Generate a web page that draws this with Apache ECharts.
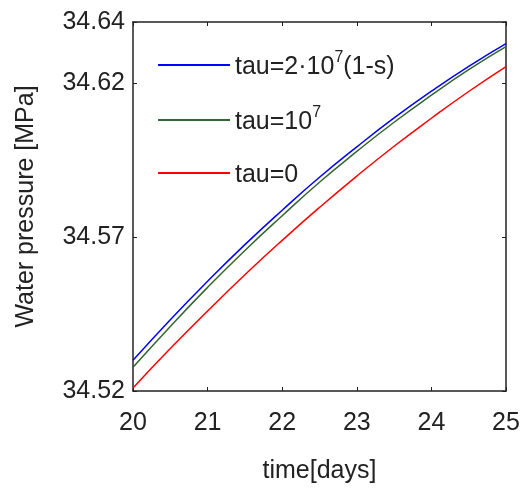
<!DOCTYPE html>
<html>
<head>
<meta charset="utf-8">
<script src="https://cdn.jsdelivr.net/npm/echarts@6/dist/echarts.min.js"></script>
<style>
html,body{margin:0;padding:0;background:#fff;}
#chart{width:524px;height:489px;}
</style>
</head>
<body>
<div id="chart"></div>
<script>
var days = [20, 20.5, 21, 21.5, 22, 22.5, 23, 23.5, 24, 24.5, 25];
var tauVar = [34.5300, 34.5432, 34.5557, 34.5676, 34.5788, 34.5895, 34.5994, 34.6088, 34.6175, 34.6256, 34.6330];
var tau1e7 = [34.5277, 34.5410, 34.5537, 34.5657, 34.5770, 34.5879, 34.5979, 34.6074, 34.6162, 34.6245, 34.6320];
var tau0 = [34.5210, 34.5338, 34.5460, 34.5578, 34.5690, 34.5797, 34.5899, 34.5996, 34.6087, 34.6174, 34.6255];
var seriesNames = ['tau=2·10^7(1-s)', 'tau=10^7', 'tau=0'];
var xTicks = [20, 21, 22, 23, 24, 25];
var yTicks = [34.52, 34.57, 34.62, 34.64];

var FONT = '"Liberation Sans", Arial, sans-serif';
var TXT = '#222';
var colors = ['#0000ff', '#336633', '#ff0000'];

function pairs(vals) { return days.map(function (d, i) { return [d, vals[i]]; }); }

function legendFmt(name) {
  var m = name.match(/^(.*)\^(\d)(.*)$/);
  if (!m) return '{n|' + name + '}';
  return '{n|' + m[1] + '}{s|' + m[2] + '}' + (m[3] ? '{n|' + m[3] + '}' : '');
}
var legendRich = {
  n: { fontSize: 25, fontFamily: FONT, color: TXT, lineHeight: 30, verticalAlign: 'bottom' },
  s: { fontSize: 16, fontFamily: FONT, color: TXT, lineHeight: 30, verticalAlign: 'top', padding: [0, 0, 14, 0] }
};
var legendTops = [45, 100, 158];

var chart = echarts.init(document.getElementById('chart'), null, { renderer: 'canvas' });
var axisLineStyle = { color: '#222', width: 1.5 };
chart.setOption({
  animation: false,
  backgroundColor: '#fff',
  grid: { left: 133, right: 18, top: 22, bottom: 95, show: false },
  legend: seriesNames.map(function (nm, i) {
    return {
      data: [{ name: nm, icon: 'rect' }], orient: 'vertical', left: 153, top: legendTops[i],
      itemWidth: 72, itemHeight: 2, itemGap: 0,
      formatter: legendFmt,
      textStyle: { rich: legendRich, padding: [0, 0, 0, 0] },
      selectedMode: false
    };
  }),
  xAxis: [{
    type: 'value', min: 20, max: 25, interval: 1, position: 'bottom',
    axisLine: { show: true, onZero: false, lineStyle: axisLineStyle },
    axisTick: { show: true, inside: true, length: 4, lineStyle: { color: '#222' } },
    splitLine: { show: false },
    axisLabel: { fontSize: 25, fontFamily: FONT, color: TXT, margin: 20,
      formatter: function (v) { return xTicks.indexOf(v) >= 0 ? String(v) : ''; } },
    name: 'time[days]', nameLocation: 'middle', nameGap: 68,
    nameTextStyle: { fontSize: 25, fontFamily: FONT, color: TXT }
  }, {
    type: 'value', min: 20, max: 25, interval: 1, position: 'top',
    axisLine: { show: true, onZero: false, lineStyle: axisLineStyle },
    axisTick: { show: true, inside: true, length: 4, lineStyle: { color: '#222' } },
    axisLabel: { show: false }, splitLine: { show: false }
  }],
  yAxis: [{
    type: 'value', min: 34.52, max: 34.64, interval: 0.05, position: 'left',
    axisLine: { show: true, onZero: false, lineStyle: axisLineStyle },
    axisTick: { show: true, inside: true, length: 4, lineStyle: { color: '#222' } },
    splitLine: { show: false },
    axisLabel: { fontSize: 25, fontFamily: FONT, color: TXT, margin: 8, showMaxLabel: true,
      formatter: function (v) {
        var s = v.toFixed(2);
        return yTicks.some(function (t) { return t.toFixed(2) === s; }) ? s : '';
      } },
    name: 'Water pressure [MPa]', nameLocation: 'middle', nameGap: 94,
    nameTextStyle: { fontSize: 25, fontFamily: FONT, color: TXT }
  }, {
    type: 'value', min: 34.52, max: 34.64, interval: 0.05, position: 'right',
    axisLine: { show: true, onZero: false, lineStyle: axisLineStyle },
    axisTick: { show: true, inside: true, length: 4, lineStyle: { color: '#222' } },
    axisLabel: { show: false }, splitLine: { show: false }
  }],
  series: [
    { name: seriesNames[0], type: 'line', data: pairs(tauVar), smooth: true, symbol: 'none',
      lineStyle: { color: colors[0], width: 1.5 }, itemStyle: { color: colors[0] } },
    { name: seriesNames[1], type: 'line', data: pairs(tau1e7), smooth: true, symbol: 'none',
      lineStyle: { color: colors[1], width: 1.5 }, itemStyle: { color: colors[1] } },
    { name: seriesNames[2], type: 'line', data: pairs(tau0), smooth: true, symbol: 'none',
      lineStyle: { color: colors[2], width: 1.5 }, itemStyle: { color: colors[2] } }
  ]
});
</script>
</body>
</html>
